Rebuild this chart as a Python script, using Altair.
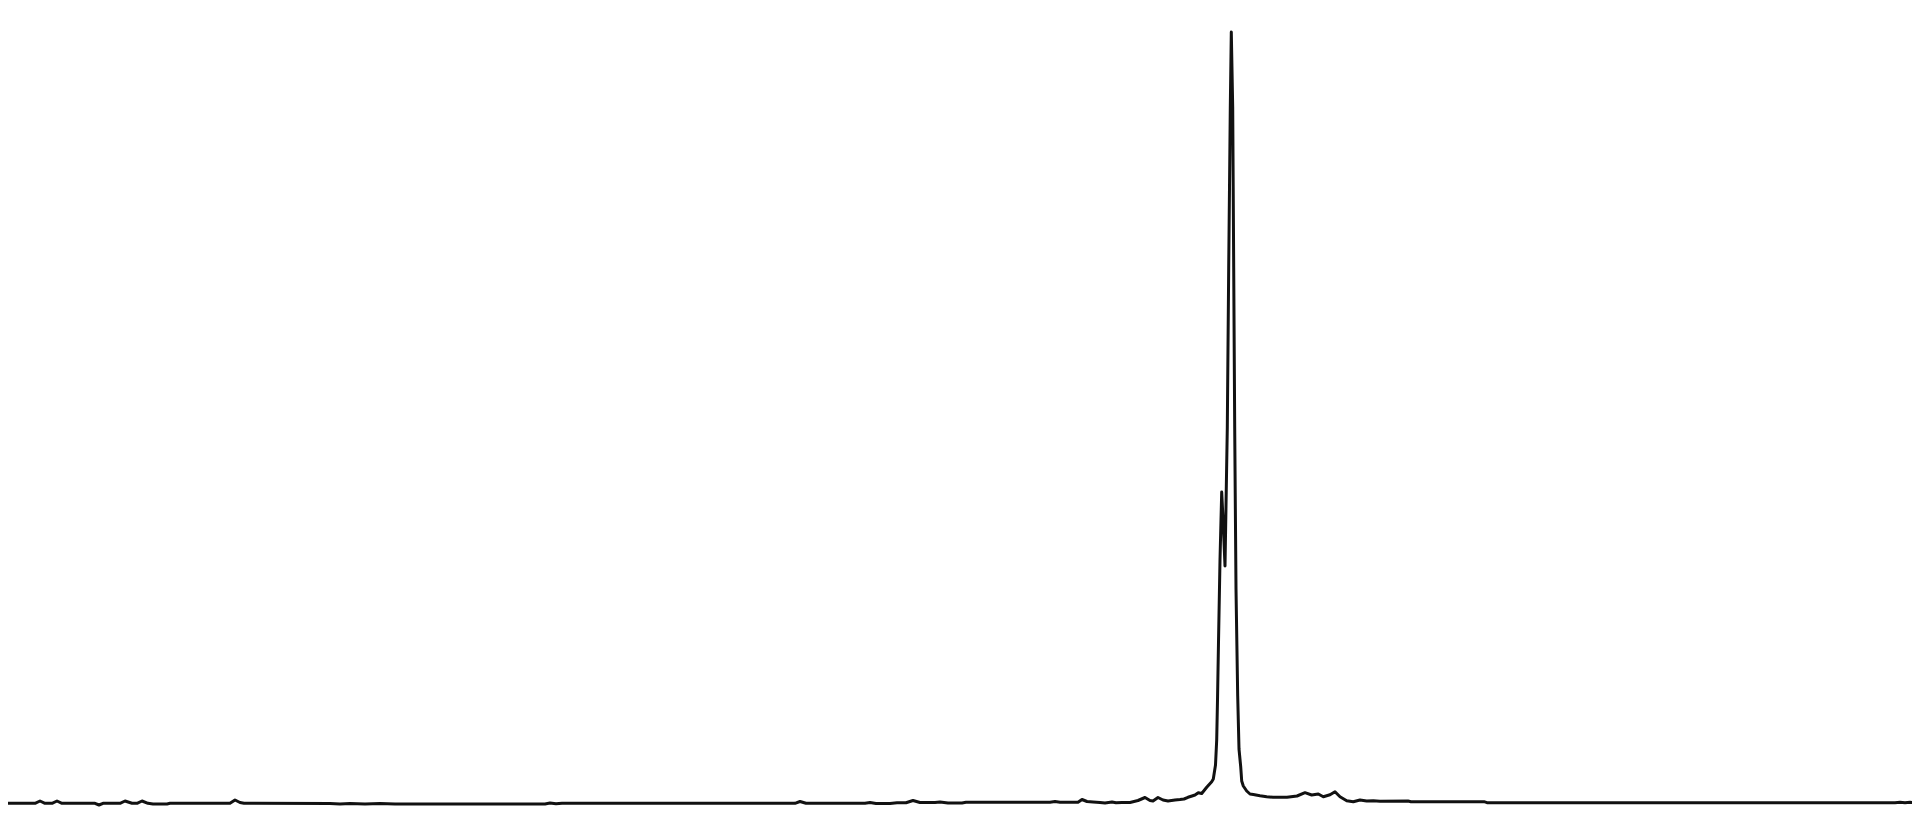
import altair as alt
import pandas as pd

# Spectrum trace (position along the trace, relative intensity)
position = [
    0, 32, 37, 42, 49, 54, 59, 92, 96, 100, 117, 122, 129, 134, 139, 145, 150, 164, 167,
    227, 232, 237, 241, 327, 337, 347, 362, 377, 392, 407, 542, 547, 553, 559,
    792, 797, 803, 862, 867, 873, 887, 894, 903, 910, 917, 932, 937, 945, 959, 963,
    1047, 1052, 1057, 1075, 1079, 1084, 1090, 1097, 1102, 1109, 1113, 1119, 1127,
    1135, 1142, 1147, 1150, 1155, 1160, 1165, 1172, 1177, 1181, 1185, 1189, 1192,
    1195.3, 1198.7, 1203.7, 1208.7, 1210.3, 1212.5, 1213.7, 1214.5, 1215.5, 1217,
    1218.7, 1220.3, 1222, 1224.3, 1225.7, 1227.3, 1228.3, 1229.7, 1230.7, 1231.7,
    1233, 1234.7, 1236, 1237.7, 1238.7, 1240.3, 1243.7, 1247, 1250.3, 1257, 1263.7,
    1270, 1284, 1294, 1302, 1308.7, 1315.3, 1320.3, 1327, 1332, 1337, 1343.7, 1350.3,
    1357, 1363.7, 1370.3, 1377, 1405, 1408, 1481, 1484, 1892, 1897, 1902, 1907, 1912, 1917,
]
intensity = [
    0, 0, 2.3, 0, 0, 2.3, 0, 0, -1.7, 0, 0, 2.3, 0, 0, 2.3, 0, -0.7, -0.7, 0,
    0, 3.3, 0.8, 0, -0.2, -0.7, -0.2, -0.7, -0.2, -0.7, -0.7, -0.7, 0.3, -0.5, 0,
    0, 1.8, 0, 0, 0.8, -0.2, -0.2, 0.5, 0.5, 2.8, 0.8, 0.8, 1.3, 0.3, 0.3, 1.0,
    1.0, 1.8, 1.0, 1.0, 3.8, 1.8, 1.3, 0.8, 0.3, 1.3, 0.5, 0.8, 0.8,
    2.8, 5.8, 2.8, 2.3, 5.8, 3.3, 2.3, 3.3, 3.8, 4.3, 6.0, 7.3, 8.3,
    10.6, 9.8, 16.0, 21.6, 24.3, 38.3, 63.3, 103.3, 161.3, 243.3,
    311.3, 278.3, 237.3, 375.3, 535.8, 696.3, 771.3, 696.3, 535.8, 375.3,
    214.3, 107.3, 54.3, 36.6, 22.3, 17.3, 12.3, 9.3, 8.8, 7.6, 6.6,
    6.0, 6.0, 7.3, 10.6, 8.3, 9.3, 6.6, 8.6, 11.6, 6.6, 2.6, 1.6,
    3.3, 2.3, 2.6, 2.1, 2.3, 1.6, 1.6, 0.6, 0.6, 1.0, 0.6, 1.0, 0.6, 0.8,
]

df = pd.DataFrame({"position": position, "intensity": intensity})

chart = (
    alt.Chart(df)
    .mark_line(color="#111111", strokeWidth=3, interpolate="linear", strokeJoin="round", clip=True)
    .encode(
        x=alt.X("position:Q", scale=alt.Scale(domain=[0, 1909], nice=False, zero=False), axis=None),
        y=alt.Y("intensity:Q", scale=alt.Scale(domain=[-4.7, 795.3], nice=False, zero=False), axis=None),
    )
    .properties(
        width=1909,
        height=800,
        autosize=alt.AutoSizeParams(type="none"),
        padding={"left": -5, "top": 0, "right": 0, "bottom": 0},
        background="white",
    )
    .configure_view(stroke=None)
)

chart.save("out.html", embed_options={"renderer": "svg", "actions": False})
